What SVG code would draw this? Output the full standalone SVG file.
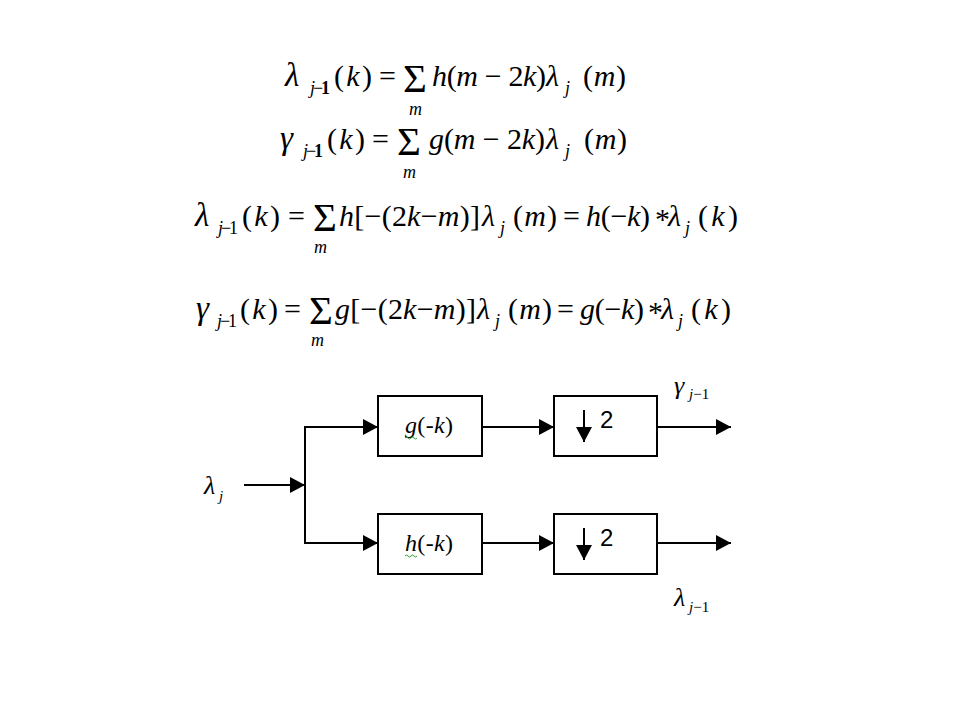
<svg xmlns="http://www.w3.org/2000/svg" width="960" height="720" viewBox="0 0 960 720">
<defs>
<style>
.it { font-style: italic; }
.bd { font-weight: bold; }
.box { fill: #fff; stroke: #000; stroke-width: 2; }
.wire { fill: none; stroke: #000; stroke-width: 2; }
.sq { fill: none; stroke: #2a9d2a; stroke-width: 1; }
</style>
<marker id="ah" markerUnits="userSpaceOnUse" markerWidth="16" markerHeight="16" refX="15" refY="8" orient="auto">
<path d="M0,0 L15,8 L0,16 Z" fill="#000"/>
</marker>
</defs>
<rect width="960" height="720" fill="#fff"/>

<g id="equations" font-family="Liberation Serif, serif" font-size="30" fill="#000">
<g id="eq1">
<text x="285" y="86" class="it" font-size="33">λ</text>
<text x="310" y="94" font-size="18" textLength="20"><tspan class="it">j</tspan>−<tspan class="bd">1</tspan></text>
<text x="334" y="86" textLength="38">(<tspan class="it">k</tspan>)</text>
<text x="379" y="86">=</text>
<text x="403" y="92" font-size="41">Σ</text>
<text x="409" y="115" font-size="18" class="it">m</text>
<text x="432" y="86" textLength="114"><tspan class="it">h</tspan>(<tspan class="it">m</tspan> − 2<tspan class="it">k</tspan>)</text>
<text x="546" y="86" class="it">λ</text>
<text x="565" y="94" font-size="18" class="it">j</text>
<text x="583" y="86" textLength="43">(<tspan class="it">m</tspan>)</text>
</g>
<g id="eq2">
<text x="280" y="149" class="it" font-size="33">γ</text>
<text x="303" y="157" font-size="18" textLength="20"><tspan class="it">j</tspan>−<tspan class="bd">1</tspan></text>
<text x="327" y="149" textLength="38">(<tspan class="it">k</tspan>)</text>
<text x="372" y="149">=</text>
<text x="397" y="155" font-size="41">Σ</text>
<text x="403" y="178" font-size="18" class="it">m</text>
<text x="429" y="149" textLength="116"><tspan class="it">g</tspan>(<tspan class="it">m</tspan> − 2<tspan class="it">k</tspan>)</text>
<text x="546" y="149" class="it">λ</text>
<text x="565" y="157" font-size="18" class="it">j</text>
<text x="584" y="149" textLength="43">(<tspan class="it">m</tspan>)</text>
</g>
<g id="eq3">
<text x="195" y="226" class="it" font-size="33">λ</text>
<text x="218" y="234" font-size="18" textLength="20"><tspan class="it">j</tspan>−1</text>
<text x="242" y="226" textLength="38">(<tspan class="it">k</tspan>)</text>
<text x="288" y="226">=</text>
<text x="313" y="231" font-size="41">Σ</text>
<text x="314" y="253" font-size="18" class="it">m</text>
<text x="339" y="226" textLength="141"><tspan class="it">h</tspan>[−(2<tspan class="it">k</tspan>−<tspan class="it">m</tspan>)]</text>
<text x="482" y="226" class="it">λ</text>
<text x="500" y="234" font-size="18" class="it">j</text>
<text x="513" y="226" textLength="44">(<tspan class="it">m</tspan>)</text>
<text x="563" y="226">=</text>
<text x="586" y="226" textLength="64"><tspan class="it">h</tspan>(−<tspan class="it">k</tspan>)</text>
<text x="655" y="229">*</text>
<text x="668" y="226" class="it">λ</text>
<text x="685" y="234" font-size="18" class="it">j</text>
<text x="698" y="226" textLength="40">(<tspan class="it">k</tspan>)</text>
</g>
<g id="eq4">
<text x="196" y="319" class="it" font-size="33">γ</text>
<text x="217" y="327" font-size="18" textLength="20"><tspan class="it">j</tspan>−1</text>
<text x="240" y="319" textLength="38">(<tspan class="it">k</tspan>)</text>
<text x="284" y="319">=</text>
<text x="309" y="324" font-size="41">Σ</text>
<text x="311" y="346" font-size="18" class="it">m</text>
<text x="335" y="319" textLength="141"><tspan class="it">g</tspan>[−(2<tspan class="it">k</tspan>−<tspan class="it">m</tspan>)]</text>
<text x="477" y="319" class="it">λ</text>
<text x="495" y="327" font-size="18" class="it">j</text>
<text x="508" y="319" textLength="44">(<tspan class="it">m</tspan>)</text>
<text x="557" y="319">=</text>
<text x="580" y="319" textLength="64"><tspan class="it">g</tspan>(−<tspan class="it">k</tspan>)</text>
<text x="648" y="322">*</text>
<text x="661" y="319" class="it">λ</text>
<text x="678" y="327" font-size="18" class="it">j</text>
<text x="691" y="319" textLength="40">(<tspan class="it">k</tspan>)</text>
</g>
</g>

<g id="connectors" class="wire">
<line x1="244" y1="485" x2="305" y2="485" marker-end="url(#ah)"/>
<line x1="305" y1="426" x2="305" y2="544"/>
<line x1="304" y1="427" x2="378" y2="427" marker-end="url(#ah)"/>
<line x1="304" y1="543" x2="378" y2="543" marker-end="url(#ah)"/>
<line x1="482" y1="427" x2="554" y2="427" marker-end="url(#ah)"/>
<line x1="482" y1="543" x2="554" y2="543" marker-end="url(#ah)"/>
<line x1="657" y1="427" x2="731" y2="427" marker-end="url(#ah)"/>
<line x1="657" y1="543" x2="731" y2="543" marker-end="url(#ah)"/>
</g>

<g id="node-g">
<rect class="box" x="378" y="396" width="104" height="60"/>
<text font-family="Liberation Serif, serif" font-size="24" x="405" y="433" textLength="48"><tspan class="it">g</tspan>(-<tspan class="it">k</tspan>)</text>
<path class="sq" d="M405,438 q1.5,-2 3,0 t3,0 t3,0 t3,0"/>
</g>
<g id="node-down-top">
<rect class="box" x="554" y="396" width="103" height="60"/>
<line class="wire" x1="584" y1="410" x2="584" y2="442" marker-end="url(#ah)"/>
<text font-family="Liberation Sans, sans-serif" font-size="24" x="600" y="428">2</text>
</g>
<g id="node-h">
<rect class="box" x="378" y="514" width="104" height="60"/>
<text font-family="Liberation Serif, serif" font-size="24" x="405" y="551" textLength="48"><tspan class="it">h</tspan>(-<tspan class="it">k</tspan>)</text>
<path class="sq" d="M405,556 q1.5,-2 3,0 t3,0 t3,0 t3,0"/>
</g>
<g id="node-down-bottom">
<rect class="box" x="554" y="514" width="103" height="60"/>
<line class="wire" x1="584" y1="528" x2="584" y2="560" marker-end="url(#ah)"/>
<text font-family="Liberation Sans, sans-serif" font-size="24" x="600" y="546">2</text>
</g>

<g id="labels" font-family="Liberation Serif, serif" font-size="26" font-style="italic">
<text x="204" y="494">λ<tspan font-size="15" x="219" y="501">j</tspan></text>
<text x="674" y="394">γ<tspan font-size="15" x="689" y="399">j</tspan><tspan font-size="15" font-style="normal">−1</tspan></text>
<text x="674" y="606">λ<tspan font-size="15" x="689" y="612">j</tspan><tspan font-size="15" font-style="normal">−1</tspan></text>
</g>
</svg>
